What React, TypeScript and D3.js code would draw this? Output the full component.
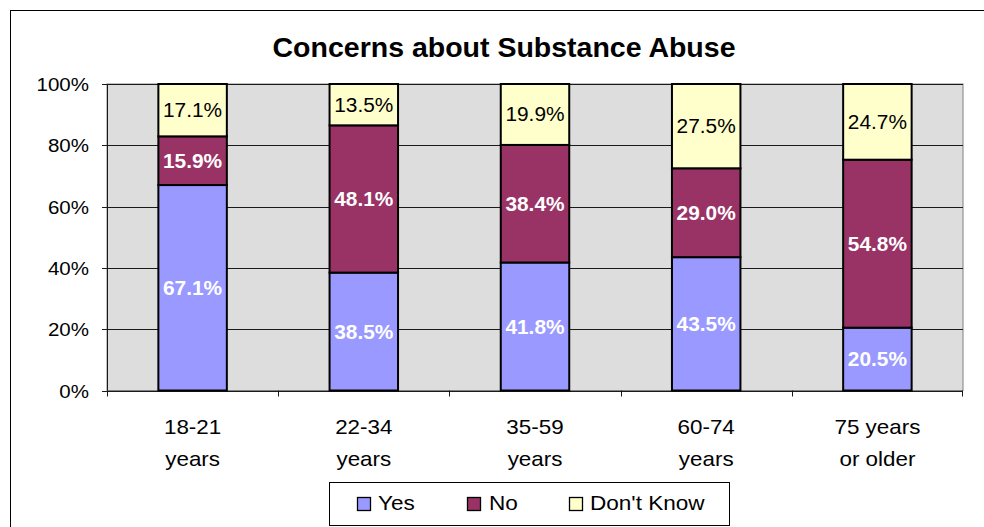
import React from "react";
import * as d3 from "d3";

// Age groups (two-line axis labels) and response shares in percent
const categories = ["18-21|years", "22-34|years", "35-59|years", "60-74|years", "75 years|or older"];
const yesValues = [67.1, 38.5, 41.8, 43.5, 20.5];
const noValues = [15.9, 48.1, 38.4, 29.0, 54.8];
const dontKnowValues = [17.1, 13.5, 19.9, 27.5, 24.7];
const seriesNames = ["Yes", "No", "Don't Know"];
const yTicks = [0, 0.2, 0.4, 0.6, 0.8, 1.0];

const colors = ["#9999FF", "#993366", "#FFFFCC"];
const labelColors = ["#FFFFFF", "#FFFFFF", "#000000"];
const labelWeights = ["bold", "bold", "normal"];
const FONT = "'Liberation Sans', Arial, sans-serif";

// Text drawn slightly wide, like the GDI-rendered chart fonts
function Txt(props: {
  x: number;
  y: number;
  size: number;
  sx?: number;
  anchor?: string;
  weight?: string;
  fill?: string;
  children: React.ReactNode;
}) {
  const { x, y, size, sx = 1.08, anchor = "start", weight = "normal", fill = "#000", children } = props;
  return (
    <text
      transform={`translate(${x},${y}) scale(${sx},1)`}
      textAnchor={anchor}
      fontSize={size}
      fontWeight={weight}
      fill={fill}
    >
      {children}
    </text>
  );
}

export default function App() {
  const W = 984;
  const H = 527;
  const plot = { left: 107, top: 84, right: 963, bottom: 390.5 };

  const rows = categories.map((c, i) => ({
    cat: c,
    Yes: yesValues[i],
    No: noValues[i],
    "Don't Know": dontKnowValues[i],
  }));

  const stack = d3.stack<any>().keys(seriesNames).offset(d3.stackOffsetExpand);
  const layers = stack(rows);

  const x = d3.scaleBand().domain(categories).range([plot.left, plot.right]).paddingInner(0.6).paddingOuter(0.3);
  const band = d3.scaleBand().domain(categories).range([plot.left, plot.right]);
  const y = d3.scaleLinear().domain([0, 1]).range([plot.bottom, plot.top]);
  const pct = d3.format(".0%");
  const fmt = d3.format(".1f");

  const legendItems = [
    { name: "Yes", sx: 357, tx: 378 },
    { name: "No", sx: 467, tx: 489 },
    { name: "Don't Know", sx: 569, tx: 590 },
  ];

  return (
    <svg width={W} height={H} style={{ position: "absolute", left: 0, top: 0 }} fontFamily={FONT}>
      <rect x={0} y={0} width={W} height={H} fill="#fff" />
      {/* chart frame */}
      <rect x={10.5} y={10.5} width={990} height={540} fill="none" stroke="#000" strokeWidth={1} />
      <Txt x={504} y={57} size={28.5} sx={1} anchor="middle" weight="bold">
        Concerns about Substance Abuse
      </Txt>

      {/* plot area */}
      <rect x={plot.left} y={plot.top} width={plot.right - plot.left} height={plot.bottom - plot.top} fill="#DDDDDD" stroke="#808080" strokeWidth={1} />
      {yTicks.map((t) => (
        <g key={t}>
          <line x1={plot.left} x2={plot.right} y1={Math.round(y(t)) + 0.5} y2={Math.round(y(t)) + 0.5} stroke="#1a1a1a" strokeWidth={1} />
          <line x1={plot.left - 5} x2={plot.left} y1={Math.round(y(t)) + 0.5} y2={Math.round(y(t)) + 0.5} stroke="#1a1a1a" />
          <Txt x={89} y={y(t) + 7} size={19} anchor="end">
            {pct(t)}
          </Txt>
        </g>
      ))}
      <line x1={plot.left + 0.5} x2={plot.left + 0.5} y1={plot.top} y2={plot.bottom} stroke="#1a1a1a" />
      {categories.map((c, i) => (
        <line key={"tk" + i} x1={Math.round(band(c)!) + 0.5} x2={Math.round(band(c)!) + 0.5} y1={plot.bottom} y2={plot.bottom + 6} stroke="#1a1a1a" />
      ))}
      <line x1={plot.right - 0.5} x2={plot.right - 0.5} y1={plot.bottom} y2={plot.bottom + 6} stroke="#1a1a1a" />

      {/* stacked bars */}
      {layers.map((layer, si) => (
        <g key={layer.key}>
          {layer.map((d, i) => (
            <rect
              key={i}
              x={x(categories[i])}
              y={y(d[1])}
              width={x.bandwidth()}
              height={y(d[0]) - y(d[1])}
              fill={colors[si]}
              stroke="#000"
              strokeWidth={2}
            />
          ))}
        </g>
      ))}
      {layers.map((layer, si) => (
        <g key={"lbl" + layer.key}>
          {layer.map((d, i) => {
            const v = [yesValues, noValues, dontKnowValues][si][i];
            return (
              <Txt
                key={i}
                x={x(categories[i])! + x.bandwidth() / 2}
                y={(y(d[0]) + y(d[1])) / 2 + 7}
                size={19.5}
                sx={1.07}
                anchor="middle"
                weight={labelWeights[si]}
                fill={labelColors[si]}
              >
                {fmt(v) + "%"}
              </Txt>
            );
          })}
        </g>
      ))}

      {/* category labels */}
      {categories.map((c) => {
        const [l1, l2] = c.split("|");
        const cx = band(c)! + band.bandwidth() / 2;
        return (
          <g key={c}>
            <Txt x={cx} y={434} size={20} sx={1.12} anchor="middle">{l1}</Txt>
            <Txt x={cx} y={466} size={20} sx={1.12} anchor="middle">{l2}</Txt>
          </g>
        );
      })}

      {/* legend */}
      <rect x={329.5} y={482.5} width={400} height={43} fill="#fff" stroke="#000" />
      {legendItems.map((it, i) => (
        <g key={it.name}>
          <rect x={it.sx + 0.5} y={497.5} width={13} height={13} fill={colors[i]} stroke="#000" strokeWidth={1.3} />
          <Txt x={it.tx} y={510} size={20.5} sx={1.1}>
            {it.name}
          </Txt>
        </g>
      ))}
    </svg>
  );
}
